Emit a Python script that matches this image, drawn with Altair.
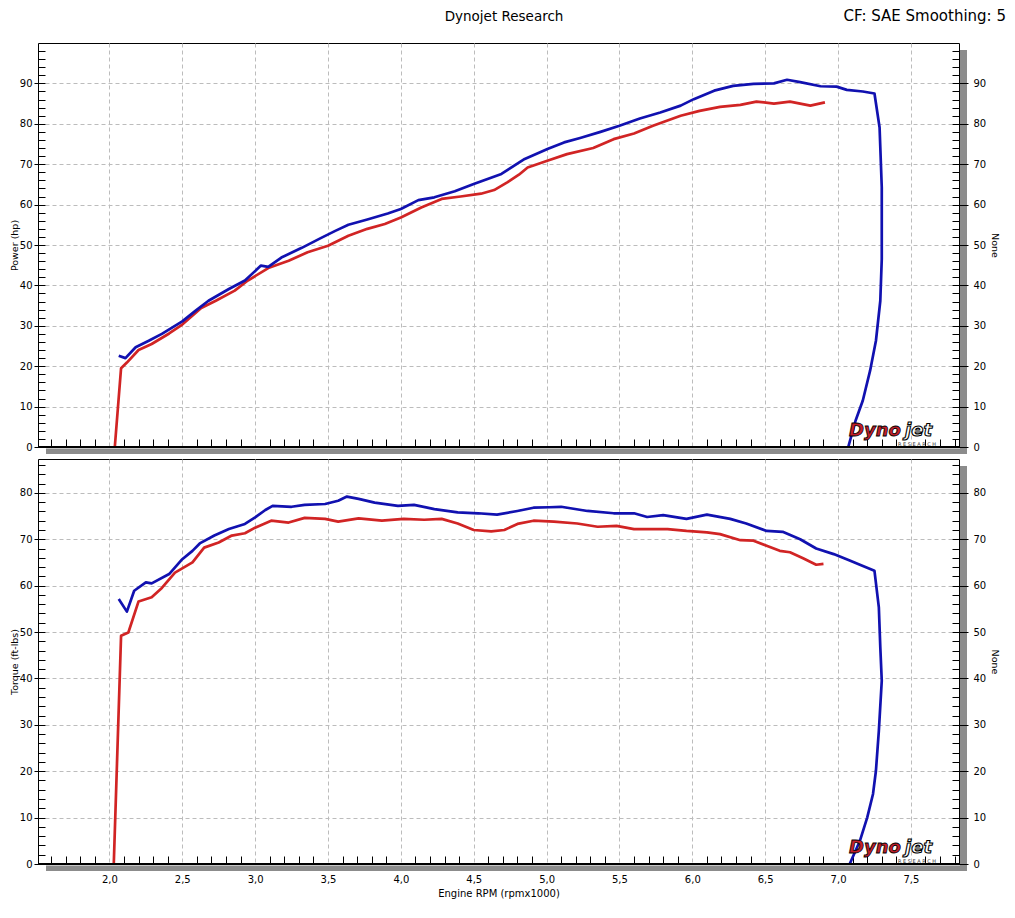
import altair as alt
import pandas as pd

# ---------------- data ----------------
rpm_hp_red = [2.037, 2.08, 2.12, 2.20, 2.29, 2.41, 2.50, 2.63, 2.73, 2.86, 2.95, 3.09, 3.23, 3.36,
              3.50, 3.64, 3.77, 3.89, 4.00, 4.14, 4.28, 4.41, 4.55, 4.64, 4.73, 4.81, 4.87, 5.01,
              5.14, 5.32, 5.46, 5.60, 5.73, 5.92, 6.05, 6.19, 6.33, 6.44, 6.56, 6.67, 6.81, 6.91]
hp_red = [0.0, 19.5, 20.9, 24.0, 25.5, 28.1, 30.3, 34.4, 36.2, 38.7, 41.2, 44.3, 46.1, 48.2,
          49.8, 52.3, 54.0, 55.2, 56.8, 59.3, 61.4, 62.0, 62.7, 63.6, 65.5, 67.4, 69.2, 70.9,
          72.5, 74.0, 76.2, 77.6, 79.5, 82.0, 83.2, 84.2, 84.7, 85.5, 85.0, 85.5, 84.5, 85.3]

rpm_hp_blue = [2.064, 2.11, 2.18, 2.27, 2.36, 2.50, 2.59, 2.68, 2.82, 2.93, 3.04, 3.09, 3.18, 3.32,
               3.45, 3.55, 3.64, 3.77, 3.91, 4.00, 4.12, 4.23, 4.37, 4.50, 4.69, 4.85, 5.01, 5.12,
               5.23, 5.37, 5.50, 5.64, 5.78, 5.92, 6.01, 6.15, 6.28, 6.42, 6.56, 6.65, 6.74, 6.88,
               6.99, 7.06, 7.17, 7.25, 7.285, 7.30, 7.30, 7.30, 7.29, 7.26, 7.22, 7.17, 7.12, 7.07]
hp_blue = [22.6, 22.0, 24.7, 26.3, 28.0, 31.1, 33.7, 36.2, 39.1, 41.2, 44.9, 44.6, 46.9, 49.3,
           51.7, 53.5, 55.0, 56.3, 57.8, 58.9, 61.1, 61.8, 63.3, 65.1, 67.6, 71.3, 73.8, 75.4,
           76.5, 78.0, 79.5, 81.3, 82.8, 84.5, 86.1, 88.2, 89.4, 89.9, 90.0, 90.9, 90.3, 89.3,
           89.2, 88.4, 88.0, 87.5, 79.1, 64.3, 55.0, 46.5, 36.2, 26.3, 18.9, 11.5, 6.5, 0.0]

rpm_tq_red = [2.03, 2.08, 2.13, 2.20, 2.29, 2.36, 2.45, 2.57, 2.65, 2.75, 2.84, 2.93, 3.00, 3.11,
              3.23, 3.34, 3.48, 3.57, 3.71, 3.87, 4.02, 4.16, 4.28, 4.39, 4.50, 4.62, 4.71, 4.80,
              4.91, 5.05, 5.21, 5.35, 5.48, 5.60, 5.83, 5.96, 6.10, 6.19, 6.33, 6.42, 6.51, 6.60,
              6.67, 6.76, 6.85, 6.90]
tq_red = [0.0, 49.2, 49.9, 56.6, 57.5, 59.5, 62.8, 65.0, 68.2, 69.3, 70.8, 71.3, 72.5, 74.0,
          73.6, 74.6, 74.4, 73.8, 74.5, 74.0, 74.4, 74.2, 74.4, 73.4, 72.0, 71.7, 72.0, 73.3,
          74.0, 73.8, 73.4, 72.7, 72.9, 72.2, 72.2, 71.8, 71.5, 71.1, 69.8, 69.7, 68.6, 67.5,
          67.2, 65.9, 64.5, 64.7]

rpm_tq_blue = [2.064, 2.12, 2.17, 2.25, 2.29, 2.41, 2.50, 2.57, 2.62, 2.72, 2.82, 2.93, 3.00, 3.07,
               3.12, 3.25, 3.34, 3.48, 3.57, 3.63, 3.71, 3.82, 3.98, 4.09, 4.23, 4.39, 4.53, 4.66,
               4.80, 4.91, 5.02, 5.10, 5.28, 5.46, 5.60, 5.69, 5.80, 5.96, 6.10, 6.26, 6.37, 6.51,
               6.62, 6.74, 6.85, 6.97, 7.08, 7.15, 7.25, 7.28, 7.29, 7.30, 7.28, 7.26, 7.24, 7.20,
               7.15, 7.08]
tq_blue = [57.1, 54.4, 58.9, 60.7, 60.5, 62.5, 65.7, 67.5, 69.1, 70.8, 72.2, 73.3, 74.7, 76.3,
           77.2, 77.0, 77.4, 77.6, 78.3, 79.2, 78.7, 77.9, 77.2, 77.4, 76.5, 75.8, 75.6, 75.3,
           76.1, 76.8, 76.9, 77.0, 76.1, 75.6, 75.6, 74.8, 75.2, 74.4, 75.3, 74.4, 73.4, 71.8,
           71.6, 70.0, 68.0, 66.8, 65.4, 64.5, 63.2, 55.3, 46.7, 39.5, 28.7, 20.1, 15.1, 10.0,
           5.0, 0.0]

x_ticks = [round(1.6 + 0.1 * i, 1) for i in range(63)]          # 1.6 .. 7.8
hp_ticks = list(range(0, 100, 2))
tq_ticks = list(range(0, 88, 2))

header_center = "Dynojet Research"
header_right = "CF: SAE Smoothing: 5"
x_title = "Engine RPM (rpmx1000)"

# ---------------- styling ----------------
LP = 37            # expected page x of plot left
W = 958 - LP
H1 = 404
H2 = 405
RED = "#d12424"
BLUE = "#1111b0"
FONT = "DejaVu Sans"
GRID = "#bcbcbc"
SHADOW = "#8c8c8c"
XDOM = [1.51, 7.83]

MAJX = "abs(datum.value*2 - round(datum.value*2)) < 0.01"
MAJY = "datum.value % 10 == 0"


def frame(x, y):
    return pd.DataFrame({"rpm": x, "val": y, "idx": list(range(len(x)))})


one = pd.DataFrame({"a": [0]})


def x_axis(show):
    kw = dict(
        values=x_ticks, offset=-8, tickSize=8, tickColor="black", tickWidth=1,
        tickOpacity={"condition": {"test": MAJX, "value": 0}, "value": 1},
        domain=False, grid=True, gridColor=GRID, gridDash=[4, 3], gridWidth=1,
        gridOpacity={"condition": {"test": MAJX, "value": 1}, "value": 0},
        labels=show, labelOverlap=False, labelFlush=False,
        labelExpr=f"{MAJX} ? replace(format(datum.value, '.1f'), '.', ',') : ''",
        labelFont=FONT, labelFontSize=10, labelColor="black", labelPadding=10,
        titleFont=FONT, titleFontSize=10, titleFontWeight="normal", titleColor="black",
        titlePadding=4,
    )
    kw["title"] = x_title if show else None
    return alt.Axis(**kw)


def y_axis(ticks, title, orient):
    left = orient == "left"
    kw = dict(
        orient=orient, values=ticks, offset=-7,
        tickSize={"condition": {"test": MAJY, "value": 11 if left else 16}, "value": 7},
        tickColor="black", tickWidth=1, domain=False,
        labelExpr=f"{MAJY} ? format(datum.value, 'd') : ''", labelOverlap=False,
        labelFont=FONT, labelFontSize=10, labelColor="black",
        labelPadding=2 if left else 5,
        title=title, titleFont=FONT, titleFontSize=9.5, titleFontWeight="normal",
        titleColor="black", titlePadding=0 if left else 4,
    )
    if left:
        kw.update(grid=True, gridColor=GRID, gridDash=[4, 3], gridWidth=1,
                  gridOpacity={"condition": {"test": f"{MAJY} && datum.value > 0", "value": 1},
                               "value": 0})
    else:
        kw.update(grid=False, zindex=1)
    return alt.Axis(**kw)


def panel(red, blue, ydom, yt, ytitle, H, show_x, header):
    xs = alt.Scale(domain=XDOM, nice=False, zero=False)
    ys = alt.Scale(domain=ydom, nice=False, zero=False)
    red_line = alt.Chart(red).mark_line(color=RED, strokeWidth=2.7, strokeJoin="round",
                                         clip=True).encode(
        x=alt.X("rpm:Q", scale=xs, axis=x_axis(show_x)),
        y=alt.Y("val:Q", scale=ys, axis=y_axis(yt, ytitle, "left")),
        order=alt.Order("idx:Q"),
    )
    blue_line = alt.Chart(blue).mark_line(color=BLUE, strokeWidth=2.7, strokeJoin="round",
                                           clip=True).encode(
        x=alt.X("rpm:Q", scale=xs, axis=x_axis(show_x)),
        y=alt.Y("val:Q", scale=ys, axis=y_axis(yt, "None", "right")),
        order=alt.Order("idx:Q"),
    )
    base = alt.Chart(one)
    shadow_b = base.mark_rect(color=SHADOW).encode(
        x=alt.value(8), x2=alt.value(W + 8), y=alt.value(H + 1.5), y2=alt.value(H + 7))
    shadow_r = base.mark_rect(color=SHADOW).encode(
        x=alt.value(W + 1), x2=alt.value(W + 8), y=alt.value(7), y2=alt.value(H + 7))
    bottom_rule = base.mark_rule(color="black", strokeWidth=2).encode(
        x=alt.value(0), x2=alt.value(W), y=alt.value(H))
    logo1 = base.mark_text(text="Dyno", font=FONT, fontSize=18, fontStyle="italic",
                           fontWeight="bold", align="left", baseline="alphabetic",
                           fill="#c41f2b", stroke="black", strokeWidth=0.8).encode(
        x=alt.value(W - 110), y=alt.value(H - 11))
    logo2 = base.mark_text(text="jet", font=FONT, fontSize=18, fontStyle="italic",
                           fontWeight="bold", align="left", baseline="alphabetic",
                           fill="white", stroke="black", strokeWidth=1.1).encode(
        x=alt.value(W - 54), y=alt.value(H - 11))
    logo3 = base.mark_text(text="R  E  S  E  A  R  C  H", font=FONT, fontSize=5,
                           align="center", baseline="alphabetic", color="#333333").encode(
        x=alt.value(W - 42), y=alt.value(H - 1.5))
    layers = [red_line, blue_line, shadow_b, shadow_r, bottom_rule, logo1, logo2, logo3]
    if header:
        layers.append(base.mark_text(text=header_center, font=FONT, fontSize=13.5,
                                     align="center", baseline="top", color="black").encode(
            x=alt.value(503 - LP), y=alt.value(-33)))
        layers.append(base.mark_text(text=header_right, font=FONT, fontSize=15,
                                     align="right", baseline="top", color="black").encode(
            x=alt.value(1005 - LP), y=alt.value(-34)))
    return alt.layer(*layers).resolve_axis(y="independent").properties(width=W, height=H)


top = panel(frame(rpm_hp_red, hp_red), frame(rpm_hp_blue, hp_blue), [0, 100], hp_ticks,
            "Power (hp)", H1, False, True)
bottom = panel(frame(rpm_tq_red, tq_red), frame(rpm_tq_blue, tq_blue), [0, 87.3], tq_ticks,
               "Torque (ft-lbs)", H2, True, False)

chart = alt.vconcat(top, bottom, spacing=3).properties(
    padding=0, background="white"
).configure_view(stroke="black", strokeWidth=1)

chart.save("out.html", embed_options={"renderer": "svg", "actions": False})
